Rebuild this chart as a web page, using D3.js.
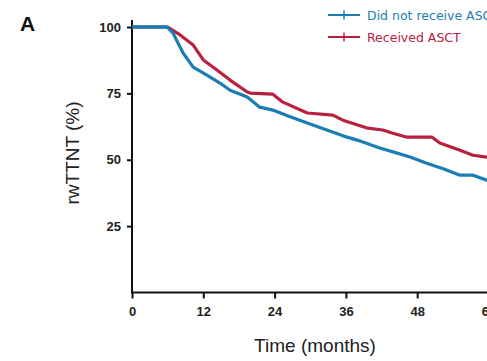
<!DOCTYPE html>
<html>
<head>
<meta charset="utf-8">
<script src="https://cdn.jsdelivr.net/npm/d3@7"></script>
<style>
  html, body { margin: 0; padding: 0; background: #fff; }
  svg { display: block; }
  .tick text { font-family: "Liberation Sans Narrow", "Arial Narrow", sans-serif; font-size: 13px; font-weight: bold; fill: #222; }
</style>
</head>
<body>
<svg id="chart" width="487" height="361"></svg>
<script>
// months / rwTTNT (%)
const noAsctMonths = [0, 5.9, 6.9, 8.6, 10.3, 12.6, 14.8, 16.5, 19.4, 21.5, 23.7, 26.5, 29.5, 32.8, 35.5, 37.9, 41.7, 44.5, 46.8, 49.6, 52.5, 55.2, 57.4, 59.7, 61.5];
const noAsctPct    = [100, 100, 97.7, 90.2, 84.9, 81.9, 78.9, 76.2, 73.6, 69.8, 68.7, 66.3, 63.8, 61.2, 59.0, 57.4, 54.4, 52.6, 51.0, 48.7, 46.5, 44.2, 44.2, 42.3, 41.5];

const asctMonths = [0, 6.0, 8.1, 10.3, 12.0, 14.3, 16.5, 19.4, 19.9, 23.7, 25.4, 29.5, 33.8, 35.5, 39.7, 42.2, 43.9, 46.3, 50.5, 51.8, 55.2, 57.4, 59.7, 61.5];
const asctPct    = [100, 100, 97.0, 93.2, 87.6, 83.8, 80.0, 75.5, 75.1, 74.7, 71.7, 67.6, 66.8, 64.9, 61.9, 61.2, 60.0, 58.5, 58.5, 56.3, 53.6, 51.7, 51.0, 50.6];

const xTicks = [0, 12, 24, 36, 48, 60];
const yTicks = [25, 50, 75, 100];
const seriesNames = ["Did not receive ASCT", "Received ASCT"];
const seriesColors = ["#1b7db4", "#b8213e"];

const svg = d3.select("#chart");

const x = d3.scaleLinear().domain([0, 60]).range([132, 488.5]);
const y = d3.scaleLinear().domain([0, 100]).range([292.5, 27]);

const series = [
  noAsctMonths.map((m, i) => [m, noAsctPct[i]]),
  asctMonths.map((m, i) => [m, asctPct[i]])
];

// axes
const xAxis = svg.append("g")
    .attr("transform", "translate(0,292.5)")
    .call(d3.axisBottom(x).tickValues(xTicks).tickSize(6).tickPadding(8).tickFormat(d3.format("d")));
xAxis.select(".domain").attr("d", "M132,0H540").attr("stroke", "#111").attr("stroke-width", 2);
xAxis.selectAll(".tick line").attr("stroke", "#111").attr("stroke-width", 2);

const yAxis = svg.append("g")
    .attr("transform", "translate(132,0)")
    .call(d3.axisLeft(y).tickValues(yTicks).tickSize(5).tickPadding(6));
yAxis.select(".domain").attr("d", "M0,20V293.5").attr("stroke", "#111").attr("stroke-width", 2);
yAxis.selectAll(".tick line").attr("stroke", "#111").attr("stroke-width", 2);

// curves
const line = d3.line().x(d => x(d[0])).y(d => y(d[1]));
svg.append("g").selectAll("path.curve")
    .data(series.slice().reverse())
    .enter().append("path")
    .attr("class", "curve")
    .attr("d", line)
    .attr("fill", "none")
    .attr("stroke", (d, i) => seriesColors[1 - i])
    .attr("stroke-width", 3.2)
    .attr("stroke-linejoin", "round");

// blue drawn on top at the flat start
svg.append("path")
    .attr("d", line(series[0].slice(0, 2)))
    .attr("fill", "none")
    .attr("stroke", seriesColors[0])
    .attr("stroke-width", 3.2);

// legend
const legend = svg.append("g").selectAll("g")
    .data(seriesNames)
    .enter().append("g")
    .attr("transform", (d, i) => "translate(0," + (15 + i * 22) + ")");
legend.append("line").attr("x1", 328).attr("x2", 360).attr("y1", 0).attr("y2", 0)
    .attr("stroke", (d, i) => seriesColors[i]).attr("stroke-width", 2);
legend.append("line").attr("x1", 344).attr("x2", 344).attr("y1", -4.5).attr("y2", 4.5)
    .attr("stroke", (d, i) => seriesColors[i]).attr("stroke-width", 1.5);
legend.append("text")
    .attr("x", 367).attr("y", 4.5)
    .attr("fill", (d, i) => seriesColors[i])
    .style("font-family", "'DejaVu Sans', sans-serif")
    .style("font-size", "12.5px")
    .text(d => d);

// titles
svg.append("text")
    .attr("x", 315).attr("y", 352)
    .attr("text-anchor", "middle")
    .style("font-family", "'Liberation Sans Narrow', 'Arial Narrow', sans-serif")
    .style("font-size", "19px")
    .attr("fill", "#222")
    .text("Time (months)");

svg.append("text")
    .attr("transform", "translate(79,153) rotate(-90)")
    .attr("text-anchor", "middle")
    .style("font-family", "'Liberation Sans Narrow', 'Arial Narrow', sans-serif")
    .style("font-size", "19px")
    .attr("fill", "#222")
    .text("rwTTNT (%)");

svg.append("text")
    .attr("x", 20).attr("y", 31)
    .style("font-family", "'Liberation Sans', Arial, sans-serif")
    .style("font-size", "21px")
    .style("font-weight", "bold")
    .attr("fill", "#111")
    .text("A");
</script>
</body>
</html>
